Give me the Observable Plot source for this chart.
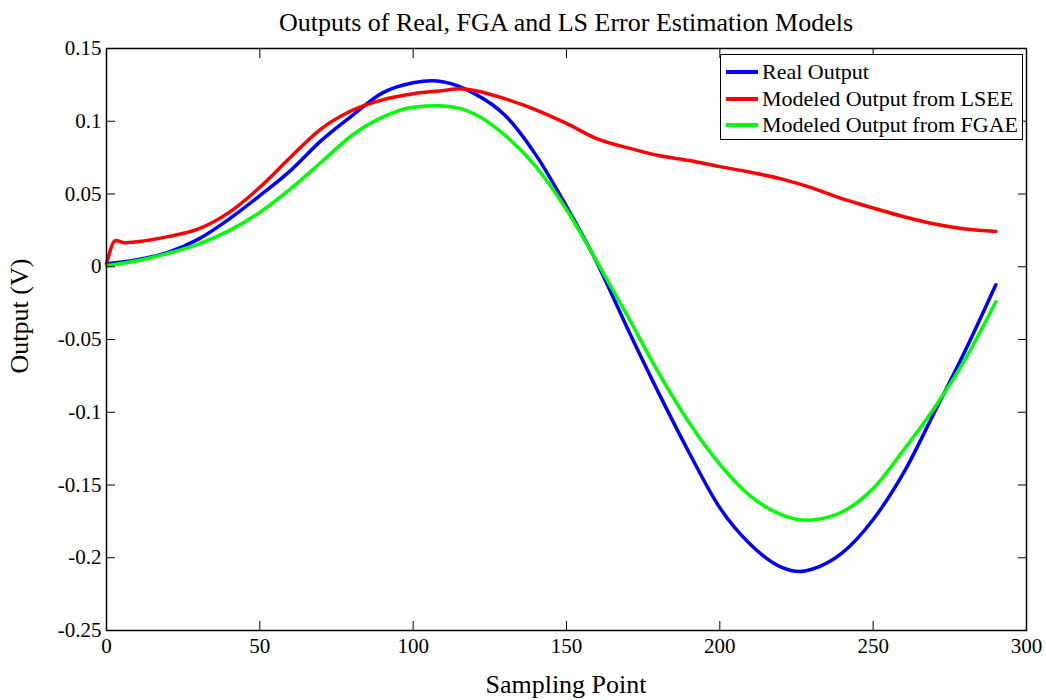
<!DOCTYPE html>
<html>
<head>
<meta charset="utf-8">
<script src="https://cdn.jsdelivr.net/npm/d3@7"></script>
<script src="https://cdn.jsdelivr.net/npm/@observablehq/plot@0.6"></script>
<style>
  body { margin: 0; background: #fff; }
  #wrap { position: relative; width: 1046px; height: 700px; font-family: "Liberation Serif", "Times New Roman", serif; }
  .legend { position: absolute; left: 720px; top: 54px; width: 303px; height: 86px; border: 1.5px solid #000; background: #fff; box-sizing: border-box; padding-top: 4px; }
  .legend .row { display: flex; align-items: center; height: 26.5px; font-size: 22px; color: #000; }
  .legend .sw { width: 32px; height: 4px; margin-left: 5px; margin-right: 4px; }
</style>
</head>
<body>
<div id="wrap"></div>
<script>
// ---- data ----
const titleText = "Outputs of Real, FGA and LS Error Estimation Models";
const xLabel = "Sampling Point";
const yLabel = "Output (V)";
const seriesNames = ["Real Output", "Modeled Output from LSEE", "Modeled Output from FGAE"];
const seriesColors = ["#0000ff", "#ff0000", "#00ff00"];
const xTicks = [0, 50, 100, 150, 200, 250, 300];
const yTicks = [-0.25, -0.2, -0.15, -0.1, -0.05, 0, 0.05, 0.1, 0.15];

const realX = [0, 10, 20, 30, 40, 50, 60, 70, 80, 90, 100, 106, 110, 120, 130, 140, 150, 160, 170, 180, 190, 200, 210, 220, 226, 230, 240, 250, 260, 270, 280, 290];
const realY = [0.002, 0.0048, 0.0099, 0.019, 0.0328, 0.0489, 0.0661, 0.0867, 0.1037, 0.1195, 0.1265, 0.1278, 0.127, 0.119, 0.104, 0.0769, 0.0415, 0.0025, -0.0429, -0.0865, -0.1278, -0.1657, -0.1909, -0.2065, -0.2095, -0.2079, -0.1965, -0.1737, -0.1414, -0.1000, -0.0578, -0.0124];

const lseeX = [0, 3, 6, 10, 20, 30, 40, 50, 60, 70, 80, 90, 100, 110, 115, 120, 130, 140, 150, 160, 170, 180, 190, 200, 210, 220, 230, 240, 250, 260, 270, 280, 290];
const lseeY = [0.002, 0.018, 0.0165, 0.0172, 0.0207, 0.026, 0.0374, 0.0546, 0.0753, 0.0948, 0.1074, 0.1147, 0.1189, 0.1212, 0.1223, 0.1212, 0.1154, 0.1079, 0.0985, 0.0879, 0.0817, 0.0764, 0.073, 0.0688, 0.0649, 0.0604, 0.0542, 0.0466, 0.0404, 0.0344, 0.0294, 0.026, 0.0243];

const fgaeX = [0, 10, 20, 30, 40, 50, 60, 70, 80, 90, 100, 108, 110, 120, 130, 140, 150, 160, 170, 180, 190, 200, 210, 220, 228, 230, 240, 250, 260, 270, 280, 290];
const fgaeY = [0.0007, 0.0041, 0.0092, 0.0156, 0.0248, 0.0374, 0.0535, 0.0718, 0.0902, 0.1028, 0.1097, 0.1106, 0.1104, 0.105, 0.0902, 0.0688, 0.0392, 0.0032, -0.0342, -0.0728, -0.1072, -0.1358, -0.1577, -0.1703, -0.1742, -0.174, -0.1684, -0.1524, -0.1258, -0.0969, -0.0636, -0.0241];

const toRows = (xs, ys) => xs.map((x, i) => ({x, y: ys[i]}));
const realData = toRows(realX, realY);
const lseeData = toRows(lseeX, lseeY);
const fgaeData = toRows(fgaeX, fgaeY);

const fmt = d => String(d);
const font = '"Liberation Serif", "Times New Roman", serif';

const chart = Plot.plot({
  width: 1046,
  height: 700,
  marginLeft: 106,
  marginRight: 20,
  marginTop: 48,
  marginBottom: 70,
  x: {domain: [0, 300]},
  y: {domain: [-0.25, 0.15]},
  style: {fontFamily: font, fontSize: "21px", color: "#000", background: "#fff", overflow: "visible"},
  marks: [
    Plot.line(realData, {x: "x", y: "y", stroke: seriesColors[0], strokeWidth: 3.5, curve: "monotone-x"}),
    Plot.line(lseeData, {x: "x", y: "y", stroke: seriesColors[1], strokeWidth: 3.5, curve: "monotone-x"}),
    Plot.line(fgaeData, {x: "x", y: "y", stroke: seriesColors[2], strokeWidth: 3.5, curve: "monotone-x"}),
    Plot.axisX(xTicks, {anchor: "bottom", tickSize: 0, tickPadding: 8, tickFormat: fmt, label: null, fontSize: 21}),
    Plot.axisY(yTicks, {anchor: "left", tickSize: 0, tickPadding: 5, tickFormat: fmt, label: null, fontSize: 21}),
    Plot.axisX(xTicks, {anchor: "bottom", tickSize: -9, text: null, label: null, strokeWidth: 1}),
    Plot.axisX(xTicks, {anchor: "top", tickSize: -9, text: null, label: null, strokeWidth: 1}),
    Plot.axisY(yTicks, {anchor: "left", tickSize: -9, text: null, label: null, strokeWidth: 1}),
    Plot.axisY(yTicks, {anchor: "right", tickSize: -9, text: null, label: null, strokeWidth: 1}),
    Plot.frame({stroke: "#000", strokeWidth: 1.5})
  ]
});

const svg = d3.select(chart);
svg.append("text").attr("x", 566).attr("y", 31).attr("text-anchor", "middle")
  .attr("font-size", 26).attr("font-family", font).attr("fill", "#000").text(titleText);
svg.append("text").attr("x", 566).attr("y", 693).attr("text-anchor", "middle")
  .attr("font-size", 26).attr("font-family", font).attr("fill", "#000").text(xLabel);
svg.append("text").attr("transform", "translate(28,316) rotate(-90)").attr("text-anchor", "middle")
  .attr("font-size", 26).attr("font-family", font).attr("fill", "#000").text(yLabel);

const wrap = document.getElementById("wrap");
wrap.appendChild(chart);

const legend = document.createElement("div");
legend.className = "legend";
seriesNames.forEach((name, i) => {
  const row = document.createElement("div");
  row.className = "row";
  const sw = document.createElement("span");
  sw.className = "sw";
  sw.style.background = seriesColors[i];
  const label = document.createElement("span");
  label.textContent = name;
  row.appendChild(sw);
  row.appendChild(label);
  legend.appendChild(row);
});
wrap.appendChild(legend);
</script>
</body>
</html>
